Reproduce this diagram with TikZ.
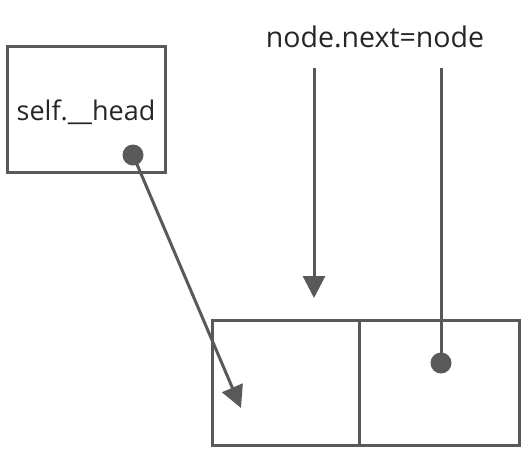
\documentclass[tikz,border=0pt]{standalone}
\usepackage{fontspec}
\setmainfont{Open Sans}
\usetikzlibrary{arrows.meta}
\definecolor{lc}{HTML}{595959}
\definecolor{tc}{HTML}{262626}
\begin{document}
\begin{tikzpicture}[x=1pt,y=-1pt,
  box/.style={draw=lc,line width=3pt,inner sep=0pt,outer sep=0pt,anchor=north west},
  dot/.style={circle,fill=lc,inner sep=0pt,minimum size=21pt},
  ln/.style={draw=lc,line width=3pt},
  arr/.style={ln,-{Triangle[length=22pt,width=22pt]},fill=lc},
  lbl/.style={text=tc,inner sep=0pt}]
\useasboundingbox (0,0) rectangle (526,451);
% head box
\node[box,minimum width=158pt,minimum height=126pt] (head) at (7,46) {};
\node[lbl,font=\fontsize{27}{32}\selectfont] (headtxt) at (86,112) {self.\_\_head};
\node[dot] (hd) at (133,155) {};
% bottom boxes
\node[box,minimum width=147pt,minimum height=125pt] (data) at (212,320) {};
\node[box,minimum width=160pt,minimum height=125pt] (next) at (359,320) {};
% label
\node[lbl,font=\fontsize{28.5}{33}\selectfont] (code) at (375,37) {node.next=node};
% connectors
\coordinate (a1) at (241,408);
\draw[arr] (hd.center) -- (a1);
\coordinate (t1) at (314,68);
\coordinate (a2) at (314,298);
\draw[arr] (t1) -- (a2);
\coordinate (t2) at (441,68);
\node[dot] (nd) at (441,363) {};
\draw[ln] (t2) -- (nd.center);
\end{tikzpicture}
\end{document}
